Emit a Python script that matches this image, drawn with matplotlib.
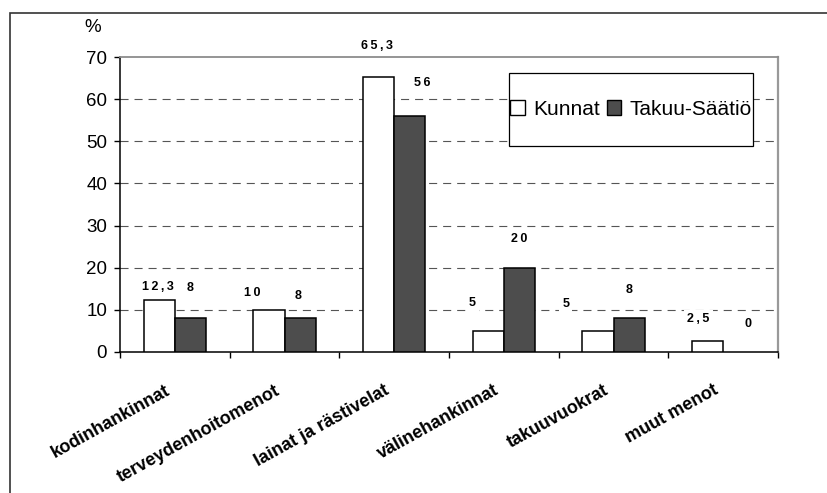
import matplotlib
matplotlib.use("Agg")
import matplotlib.pyplot as plt
from matplotlib.patches import Rectangle
import numpy as np

plt.rcParams['font.family'] = ['Liberation Sans', 'DejaVu Sans']
plt.rcParams['lines.scale_dashes'] = False

categories = ["kodinhankinnat", "terveydenhoitomenot", "lainat ja rästivelat",
              "välinehankinnat", "takuuvuokrat", "muut menot"]
kunnat = [12.3, 10, 65.3, 5, 5, 2.5]
takuu = [8, 8, 56, 20, 8, 0]
series_names = ["Kunnat", "Takuu-Säätiö"]
y_ticks = [0, 10, 20, 30, 40, 50, 60, 70]

# value-label nudges (pixels) relative to the top centre of each bar
kunnat_label_shift = [(-1, 13), (-17, 17), (-2, 31), (-16, 28), (-32, 27), (-9, 22)]
takuu_label_shift = [(0, 30), (-2, 22), (12, 33), (0, 29), (0, 28), (9, 28)]


def fmt(v):
    s = ("%g" % v).replace(".", ",")
    return "\u2009".join(s) if len(s) > 1 else s


W, H = 827, 493
fig = plt.figure(figsize=(W / 100, H / 100), dpi=100)
ax = fig.add_axes([120 / W, 1 - 352 / H, (778 - 120) / W, (352 - 57) / H])

x = np.arange(len(categories))
bw = 0.285
dark = "#4d4d4d"
lw1 = [1.1 if v > 0 else 0 for v in kunnat]
lw2 = [1.1 if v > 0 else 0 for v in takuu]
b1 = ax.bar(x - bw / 2, kunnat, bw, color="white", edgecolor="black", linewidth=lw1, zorder=3)
b2 = ax.bar(x + bw / 2, takuu, bw, color=dark, edgecolor="black", linewidth=lw2, zorder=3)

ax.set_xlim(-0.5, len(categories) - 0.5)
ax.set_ylim(0, 70)
ax.set_yticks(y_ticks)
ax.set_yticklabels([str(t) for t in y_ticks], fontsize=13.5)
ax.tick_params(axis="y", direction="out", length=4.3, width=1, pad=5)

# horizontal dashed grid
for t in y_ticks[1:-1]:
    ax.axhline(t, color="#555555", linewidth=0.8, dashes=(5.8, 4.3), zorder=1)

# category separators as ticks
ax.set_xticks(x)
ax.set_xticklabels([])
ax.tick_params(axis="x", which="major", length=0)
ax.set_xticks(np.arange(-0.5, len(categories)), minor=True)
ax.tick_params(axis="x", which="minor", direction="out", length=4.3, width=1)

for i, lab in enumerate(categories):
    ax.annotate(lab, xy=(i, 0), xycoords="data", xytext=(-10, -30),
                textcoords="offset pixels", ha="right", va="top",
                rotation=29, rotation_mode="anchor", fontsize=13,
                fontweight="bold", annotation_clip=False)

for spine in ("left", "bottom"):
    ax.spines[spine].set_color("black")
    ax.spines[spine].set_linewidth(1.1)
ax.spines["top"].set_color("#8c8c8c")
ax.spines["top"].set_linewidth(1.3)
ax.spines["right"].set_color("#999999")
ax.spines["right"].set_linewidth(1.6)

# value labels
for vals, shifts, offs in ((kunnat, kunnat_label_shift, -bw / 2),
                           (takuu, takuu_label_shift, bw / 2)):
    for i, (v, (dx, dy)) in enumerate(zip(vals, shifts)):
        ax.annotate(fmt(v), xy=(i + offs, v), xytext=(dx, dy),
                    textcoords="offset pixels", ha="center", va="center",
                    fontsize=9, fontweight="bold", zorder=6,
                    annotation_clip=False,
                    bbox=dict(boxstyle="square,pad=0.25", fc="white", ec="none"))

# legend box
box = Rectangle((509 / W, 1 - 146 / H), (753 - 509) / W, (146 - 73) / H,
                transform=fig.transFigure, facecolor="white", edgecolor="black",
                linewidth=0.9, zorder=7)
fig.patches.append(box)
leg = fig.legend([b1, b2], series_names, loc="center",
                 bbox_to_anchor=((509 + 753) / 2 / W, 1 - 109.5 / H),
                 ncol=2, frameon=False, fontsize=15, handlelength=0.7,
                 handleheight=0.7, handletextpad=0.4, columnspacing=0.35,
                 borderpad=0, borderaxespad=0)
leg.set_zorder(8)
for h in leg.legend_handles:
    h.set_linewidth(1.0)

fig.text(93 / W, 1 - 27 / H, "%", fontsize=13.5, ha="center", va="center")

# outer frame of the chart
frame = Rectangle((10 / W, -0.1), 1.2, 1 - 13 / H + 0.1, transform=fig.transFigure,
                  facecolor="none", edgecolor="#333333", linewidth=1.2, zorder=10)
fig.patches.append(frame)

fig.savefig("out.png", dpi=100)
